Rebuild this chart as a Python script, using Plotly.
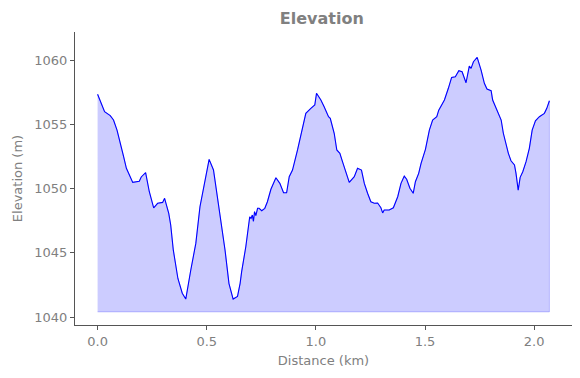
import plotly.graph_objects as go

distance_km = [0.0, 0.032, 0.058, 0.073, 0.089, 0.104, 0.119, 0.132, 0.161, 0.191, 0.2, 0.22,
               0.237, 0.257, 0.275, 0.298, 0.307, 0.326, 0.335, 0.347, 0.368, 0.388, 0.404,
               0.427, 0.45, 0.469, 0.488, 0.511, 0.531, 0.549, 0.567, 0.584, 0.602, 0.621,
               0.641, 0.653, 0.66, 0.679, 0.697, 0.703, 0.709, 0.714, 0.719, 0.725, 0.733,
               0.74, 0.752, 0.766, 0.778, 0.794, 0.817, 0.835, 0.852, 0.866, 0.878, 0.893,
               0.916, 0.931, 0.954, 0.977, 0.995, 1.003, 1.023, 1.038, 1.058, 1.066, 1.084,
               1.096, 1.11, 1.122, 1.138, 1.153, 1.176, 1.191, 1.209, 1.222, 1.237, 1.252,
               1.268, 1.283, 1.298, 1.306, 1.313, 1.336, 1.355, 1.375, 1.39, 1.405, 1.416,
               1.431, 1.446, 1.456, 1.471, 1.482, 1.502, 1.52, 1.535, 1.554, 1.563, 1.589,
               1.607, 1.622, 1.639, 1.655, 1.67, 1.688, 1.703, 1.711, 1.722, 1.739, 1.757,
               1.772, 1.784, 1.803, 1.81, 1.833, 1.849, 1.859, 1.872, 1.882, 1.894, 1.91,
               1.917, 1.927, 1.936, 1.948, 1.963, 1.978, 1.991, 2.006, 2.024, 2.047, 2.058,
               2.07]
elevation_m = [1057.33, 1055.98, 1055.67, 1055.33, 1054.55, 1053.4, 1052.5, 1051.57, 1050.48,
               1050.56, 1050.9, 1051.23, 1049.75, 1048.5, 1048.85, 1048.92, 1049.24, 1048.07,
               1047.16, 1045.2, 1043.0, 1041.85, 1041.4, 1043.66, 1045.73, 1048.58, 1050.14,
               1052.27, 1051.44, 1049.36, 1047.29, 1045.2, 1042.6, 1041.4, 1041.6, 1042.62,
               1043.53, 1045.47, 1047.8, 1047.68, 1047.94, 1047.45, 1048.2, 1047.9, 1048.46,
               1048.46, 1048.27, 1048.46, 1048.97, 1049.94, 1050.84, 1050.4, 1049.67, 1049.67,
               1050.92, 1051.44, 1053.0, 1054.16, 1055.85, 1056.24, 1056.5, 1057.41, 1056.89,
               1056.37, 1055.59, 1055.46, 1054.3, 1053.0, 1052.74, 1052.09, 1051.26, 1050.48,
               1050.92, 1051.57, 1051.44, 1050.4, 1049.63, 1048.97, 1048.85, 1048.87, 1048.5,
               1048.1, 1048.33, 1048.33, 1048.5, 1049.36, 1050.4, 1050.97, 1050.72, 1050.02,
               1049.63, 1050.53, 1051.18, 1051.96, 1053.05, 1054.55, 1055.33, 1055.59, 1056.1,
               1056.89, 1057.8, 1058.65, 1058.7, 1059.17, 1059.09, 1058.23, 1059.53, 1059.35,
               1059.87, 1060.2, 1059.22, 1058.19, 1057.74, 1057.61, 1056.89, 1056.03, 1055.33,
               1054.3, 1053.39, 1052.74, 1052.16, 1051.83, 1051.18, 1049.88, 1050.87, 1051.31,
               1052.09, 1053.13, 1054.55, 1055.27, 1055.59, 1055.85, 1056.24, 1056.83]

x_ticks = [0.0, 0.5, 1.0, 1.5, 2.0]
y_ticks = [1040, 1045, 1050, 1055, 1060]

baseline = min(elevation_m) - 1.0
grey = "#808080"
font_family = "DejaVu Sans"

fig = go.Figure()
fig.add_trace(go.Scatter(
    x=distance_km + distance_km[::-1],
    y=elevation_m + [baseline] * len(distance_km),
    fill="toself", fillcolor="rgba(0,0,255,0.2)",
    line=dict(color="rgba(0,0,255,0.2)", width=1),
    mode="lines", hoverinfo="skip", showlegend=False,
))
fig.add_trace(go.Scatter(
    x=distance_km, y=elevation_m, mode="lines",
    line=dict(color="#0000ff", width=1.1), showlegend=False,
))

axis_common = dict(
    showline=True, linecolor="#555555", linewidth=1, mirror=False,
    ticks="outside", ticklen=4, tickcolor="#555555", tickwidth=1,
    showgrid=False, zeroline=False, automargin=False,
    tickfont=dict(family=font_family, size=13, color=grey),
    title_font=dict(family=font_family, size=13, color=grey),
)

fig.update_layout(
    width=580, height=378,
    margin=dict(l=67, r=16, t=24, b=61),
    paper_bgcolor="white", plot_bgcolor="white",
    title=dict(text="<b>Elevation</b>", x=0.541, xanchor="center", y=0.9735, yanchor="middle",
               font=dict(family=font_family, size=16, color=grey)),
    xaxis=dict(range=[-0.1035, 2.1735], tickvals=x_ticks,
               ticktext=[f"{v:.1f}" for v in x_ticks],
               title=dict(text="Distance (km)", standoff=8), **axis_common),
    yaxis=dict(range=[1039.38, 1062.18], tickvals=y_ticks,
               ticktext=[str(v) for v in y_ticks],
               title=dict(text="Elevation (m)", standoff=8), **axis_common),
)

fig.write_html("out.html")
